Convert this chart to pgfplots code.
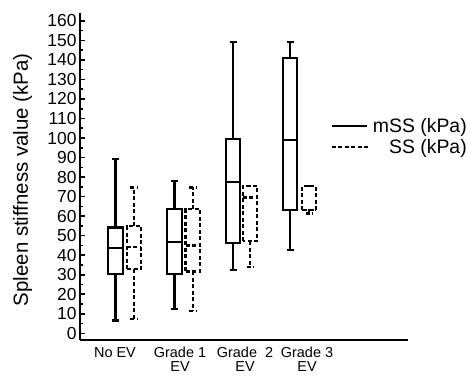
\documentclass[border=0pt]{standalone}
\usepackage{fontspec}
\setmainfont{Liberation Sans}
\usepackage{pgfplots}
\pgfplotsset{compat=1.18}
\usepgfplotslibrary{statistics}
\pgfplotsset{
  legline/.style={legend image code/.code={\draw[##1] (0bp,0bp) -- (#1,0bp);}},
  mss/.style={black, solid, line width=2.2bp},
  ss/.style={black, line width=2.2bp, dash pattern=on 4bp off 2.5bp},
}
\begin{document}
\begin{tikzpicture}
\begin{axis}[
  at={(0,0)}, anchor=south west,
  scale only axis, width=328bp, height=327bp,
  xmin=0, xmax=328, ymin=-3.4, ymax=164,
  axis lines=left, axis line style={line width=2.2bp, -},
  ytick={0,10,...,160}, minor y tick num=1,
  tick align=inside, major tick length=5bp, minor tick length=3bp,
  every tick/.style={black, line width=1.6bp},
  /pgf/number format/assume math mode=true,
  yticklabel style={font=\fontsize{17.5}{20}\selectfont},
  xtick={35,100,165,227},
  xticklabels={No EV, {Grade 1\\EV}, {Grade\ \ 2\\EV}, {Grade 3\\EV}},
  xticklabel style={font=\fontsize{14.5}{14}\selectfont, align=center, yshift=-4bp},
  x tick style={draw=none},
  ylabel={Spleen stiffness value (kPa)},
  every axis y label/.style={at={(axis description cs:-0.175,0.49)}, rotate=90, anchor=center, font=\fontsize{20.5}{24}\selectfont},
  legend style={draw=none, fill=none, at={(axis description cs:1.195,0.622)}, anchor=east,
    font=\fontsize{19.5}{23}\selectfont, row sep=2bp,
    /tikz/every even column/.style={column sep=6bp}},
  legend cell align=right,
  boxplot/draw direction=y,
  boxplot/box extend=14.5, boxplot/whisker extend=7,
]
% mSS
\addplot[mss, forget plot, boxplot prepared={draw position=35.5, lower whisker=6.6, lower quartile=30.3, median=43.8, upper quartile=54.2, upper whisker=89.2}] coordinates {};
\addplot[mss, forget plot, boxplot prepared={draw position=94.5, lower whisker=12.3, lower quartile=30.2, median=46.6, upper quartile=63.6, upper whisker=78.1}] coordinates {};
\addplot[mss, forget plot, boxplot prepared={draw position=153, lower whisker=32.4, lower quartile=46.2, median=77.4, upper quartile=99.6, upper whisker=149}] coordinates {};
\addplot[mss, forget plot, boxplot prepared={draw position=210, lower whisker=42.6, lower quartile=63, median=98.9, upper quartile=141, upper whisker=149}] coordinates {};
% SS
\addplot[ss, forget plot, boxplot prepared={draw position=54, lower whisker=7.3, lower quartile=32.9, median=44.3, upper quartile=54.9, upper whisker=74.7}] coordinates {};
\addplot[ss, forget plot, boxplot prepared={draw position=112.8, lower whisker=11.6, lower quartile=31.7, median=45, upper quartile=63.6, upper whisker=74.7}] coordinates {};
\addplot[ss, forget plot, boxplot prepared={draw position=170, lower whisker=34.1, lower quartile=47.2, median=69.6, upper quartile=75.3, upper whisker=75.3}] coordinates {};
\addplot[ss, forget plot, boxplot prepared={draw position=229, lower whisker=61.4, lower quartile=63.1, median=63.1, upper quartile=75.4, upper whisker=75.4}] coordinates {};
\addlegendimage{mss, legline=35bp}
\addlegendentry{mSS (kPa)}
\addlegendimage{ss, legline=38bp}
\addlegendentry{SS (kPa)}
\end{axis}
\pgfresetboundingbox
\useasboundingbox (-80bp,-36bp) rectangle (390bp,340bp);
\end{tikzpicture}
\end{document}
